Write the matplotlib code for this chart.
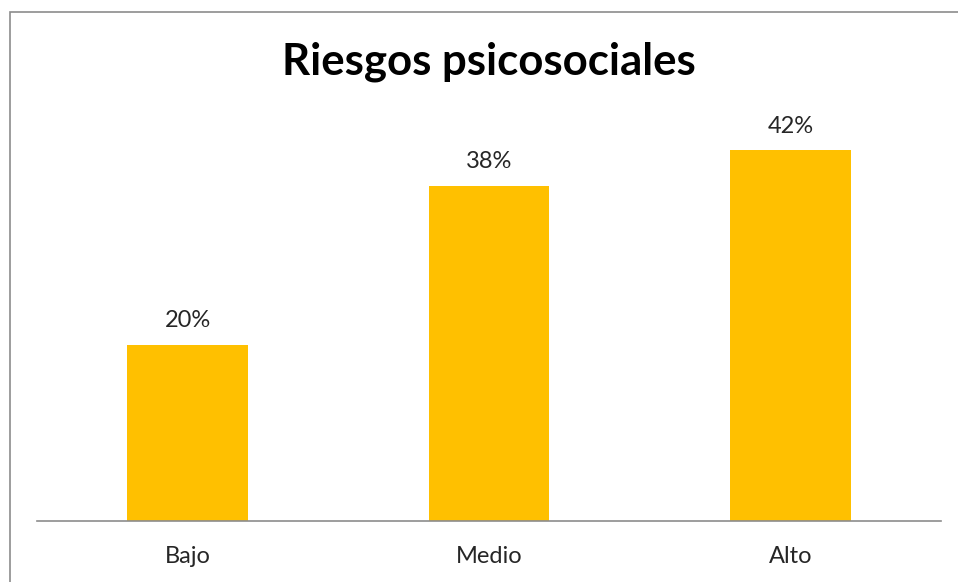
import matplotlib.pyplot as plt
from matplotlib.patches import Rectangle

categories = ["Bajo", "Medio", "Alto"]
values = [20, 38, 42]
labels = ["20%", "38%", "42%"]

plt.rcParams['font.family'] = ['Lato', 'DejaVu Sans']

fig = plt.figure(figsize=(9.58, 5.82), dpi=100)
W, H = 958, 582

# chart frame (only top/left visible in the original crop)
fig.patches.append(Rectangle((10 / W, -0.1), 1.2, 1 - 12 / H + 0.1,
                             transform=fig.transFigure, fill=False,
                             edgecolor="#8c8c8c", linewidth=1.2))

ax = fig.add_axes([37 / W, 1 - 521 / H, (941 - 37) / W, (521 - 124) / H])
x = range(len(categories))
bars = ax.bar(x, values, width=0.4, color="#FFC000")

ax.set_xlim(-0.5, 2.5)
ax.set_ylim(0, 45)
for s in ["top", "left", "right"]:
    ax.spines[s].set_visible(False)
ax.spines["bottom"].set_color("#8c8c8c")
ax.spines["bottom"].set_linewidth(1.2)
ax.set_yticks([])
ax.set_xticks(list(x))
ax.set_xticklabels(categories, fontsize=17, color="#262626")
ax.tick_params(axis="x", length=0, pad=18)

for b, lab in zip(bars, labels):
    ax.annotate(lab, (b.get_x() + b.get_width() / 2, b.get_height()),
                xytext=(0, 10), textcoords="offset points",
                ha="center", va="bottom", fontsize=17, color="#262626")

fig.text(489 / W, 1 - 62 / H, "Riesgos psicosociales", ha="center", va="center",
         fontsize=31.5, fontweight="bold", color="black")

fig.savefig("out.png", dpi=100)
